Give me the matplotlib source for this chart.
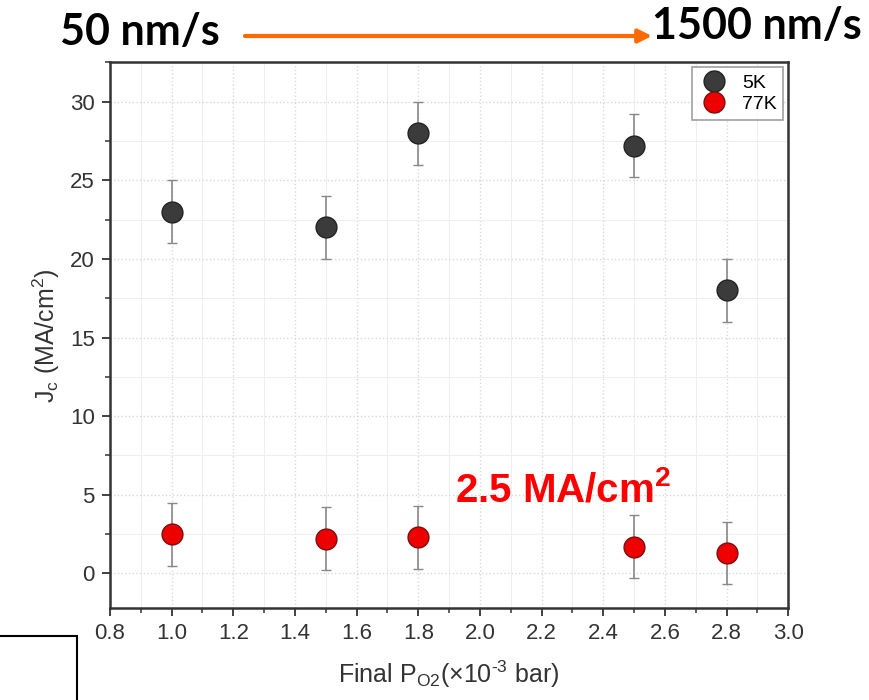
import matplotlib
matplotlib.use("Agg")
import matplotlib.pyplot as plt
from matplotlib.ticker import MultipleLocator
from matplotlib.patches import Rectangle, FancyArrowPatch

# Data
pressure = [1.0, 1.5, 1.8, 2.5, 2.8]
jc_5k = [23.0, 22.0, 28.0, 27.2, 18.0]
err_5k = [2.0, 2.0, 2.0, 2.0, 2.0]
jc_77k = [2.5, 2.2, 2.3, 1.7, 1.3]
err_77k = [2.0, 2.0, 2.0, 2.0, 2.0]
labels = ["5K", "77K"]

plt.rcParams['font.family'] = ['Liberation Sans', 'DejaVu Sans']
plt.rcParams['mathtext.fontset'] = 'custom'
plt.rcParams['mathtext.rm'] = 'Liberation Sans'
plt.rcParams['mathtext.it'] = 'Liberation Sans'
plt.rcParams['mathtext.bf'] = 'Liberation Sans:bold'
plt.rcParams['axes.unicode_minus'] = False

fig = plt.figure(figsize=(8.69, 7.0), dpi=100)
ax = fig.add_axes([0.1266, 0.1314, 0.7804, 0.7796])

ax.errorbar(pressure, jc_5k, yerr=err_5k, fmt='o', color='#3b3b3b', ecolor='#888888',
            elinewidth=1.2, capsize=3.5, capthick=1.2, markersize=15,
            markeredgecolor='#222222', markeredgewidth=1.0, label=labels[0], zorder=3)
ax.errorbar(pressure, jc_77k, yerr=err_77k, fmt='o', color='#ee0000', ecolor='#888888',
            elinewidth=1.2, capsize=3.5, capthick=1.2, markersize=15,
            markeredgecolor='#7a1010', markeredgewidth=1.0, label=labels[1], zorder=3)

ax.set_xlim(0.8, 3.0)
ax.set_ylim(-2.2, 32.5)
ax.xaxis.set_major_locator(MultipleLocator(0.2))
ax.xaxis.set_minor_locator(MultipleLocator(0.1))
ax.yaxis.set_major_locator(MultipleLocator(5))
ax.yaxis.set_minor_locator(MultipleLocator(2.5))
ax.xaxis.set_major_formatter(matplotlib.ticker.FormatStrFormatter('%.1f'))

ax.grid(which='major', color='#d8d8d8', linestyle=':', linewidth=1.0)
ax.grid(which='minor', color='#eeeeee', linestyle='-', linewidth=0.8)
ax.set_axisbelow(True)

for s in ax.spines.values():
    s.set_color('#333333')
    s.set_linewidth(1.8)
ax.tick_params(which='major', direction='out', length=6, width=1.3, colors='#333333',
               labelsize=16, labelcolor='#333333', pad=5)
ax.tick_params(which='minor', direction='out', length=3.5, width=1.1, colors='#333333')

ax.set_xlabel(r'Final P$_{\mathregular{O2}}$(×10$^{\text{-3}}$ bar)', fontsize=18,
              color='#333333', labelpad=10)
ax.set_ylabel(r'J$_{\mathregular{c}}$ (MA/cm$^{\mathregular{2}}$)', fontsize=18,
              color='#333333', labelpad=6)

leg = ax.legend(loc='upper right', fontsize=14, frameon=True, fancybox=False,
                edgecolor='#888888', borderaxespad=0.25, handletextpad=0.7,
                labelspacing=0.2, handlelength=1.5, borderpad=0.35)
leg.get_frame().set_linewidth(1.2)

ax.text(1.92, 5.3, r'2.5 MA/cm$^{\mathbf{2}}$', color='#ff0000', fontsize=29,
        fontweight='bold', va='center', ha='left', family='Liberation Sans')

# Header annotations
fig.text(60 / 869, 1 - 32 / 700, '50 nm/s', fontsize=31, fontweight='bold',
         family='Lato', ha='left', va='center')
fig.text(652 / 869, 1 - 26 / 700, '1500 nm/s', fontsize=31, fontweight='bold',
         family='Lato', ha='left', va='center')
arrow = FancyArrowPatch((245 / 869, 1 - 36 / 700), (652 / 869, 1 - 36 / 700),
                        transform=fig.transFigure, arrowstyle='-|>', mutation_scale=20,
                        color='#ff6a00', linewidth=3, shrinkA=0, shrinkB=0)
fig.patches.append(arrow)

# Box at bottom-left
fig.patches.append(Rectangle((-0.01, -0.01), 77 / 869 + 0.01, (700 - 636) / 700 + 0.01,
                             transform=fig.transFigure, fill=False, edgecolor='black',
                             linewidth=1.5))

fig.savefig('out.png', dpi=100)
